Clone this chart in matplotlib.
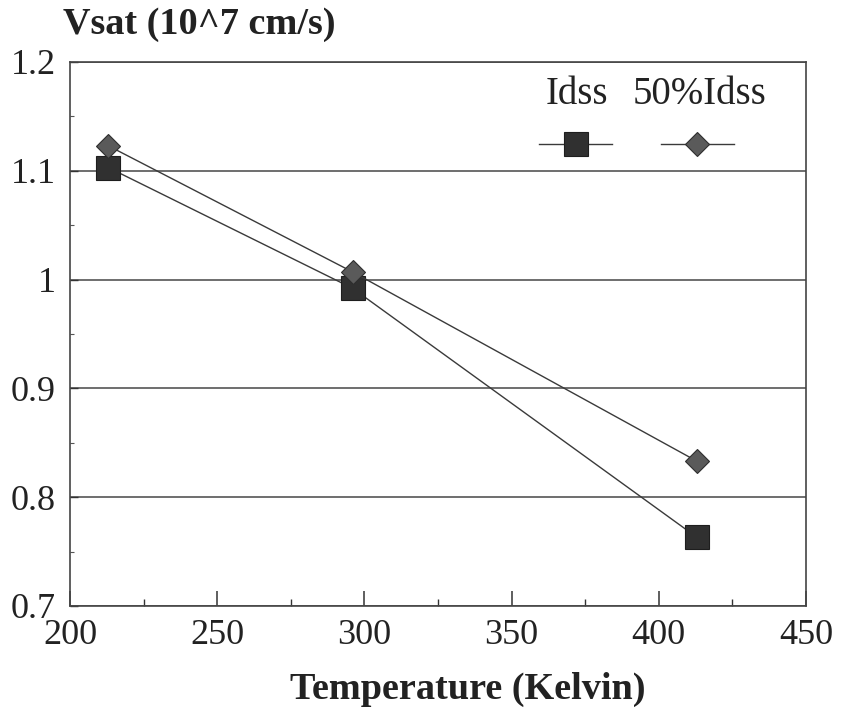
import matplotlib
matplotlib.use('Agg')
import matplotlib.pyplot as plt
from matplotlib.ticker import FixedLocator, MultipleLocator

# ---- data ----
temperature_k = [213, 296, 413]
vsat_idss = [1.103, 0.992, 0.763]
vsat_50idss = [1.123, 1.007, 0.833]
series_labels = ['Idss', '50%Idss']
x_ticks = [200, 250, 300, 350, 400, 450]
y_ticks = [0.7, 0.8, 0.9, 1.0, 1.1, 1.2]
y_tick_labels = ['0.7', '0.8', '0.9', '1', '1.1', '1.2']
y_title = 'Vsat (10^7 cm/s)'
x_title = 'Temperature (Kelvin)'

FONT = ['Liberation Serif', 'DejaVu Serif']
plt.rcParams['font.family'] = FONT

W, H = 842, 713
fig = plt.figure(figsize=(W / 100, H / 100), dpi=100)
L, R, T, B = 70, 806, 62, 606
ax = fig.add_axes([L / W, 1 - B / H, (R - L) / W, (B - T) / H])

line_c = '#3a3a3a'
ln1, = ax.plot(temperature_k, vsat_idss, color=line_c, lw=1.0, marker='s',
               ms=17.5, mfc='#303030', mec='#1e1e1e', mew=0.8, zorder=4)
ln2, = ax.plot(temperature_k, vsat_50idss, color=line_c, lw=1.0, marker='D',
               ms=12.5, mfc='#5a5a5a', mec='#2e2e2e', mew=0.8, zorder=5)

ax.set_xlim(x_ticks[0], x_ticks[-1])
ax.set_ylim(y_ticks[0], y_ticks[-1])
ax.xaxis.set_major_locator(FixedLocator(x_ticks))
ax.xaxis.set_minor_locator(MultipleLocator(25))
ax.yaxis.set_major_locator(FixedLocator(y_ticks))
ax.yaxis.set_minor_locator(MultipleLocator(0.05))
ax.set_xticklabels([str(v) for v in x_ticks])
ax.set_yticklabels(y_tick_labels)

ax.tick_params(axis='x', which='major', direction='in', length=11, width=1.1,
               color='#333333', labelsize=26, pad=9)
ax.tick_params(axis='x', which='minor', direction='in', length=5, width=1.0,
               color='#333333')
ax.tick_params(axis='y', which='major', direction='in', length=6, width=1.0,
               color='#333333', labelsize=26, pad=10)
ax.tick_params(axis='y', which='minor', direction='in', length=3, width=0.8,
               color='#555555')
for lab in ax.get_xticklabels() + ax.get_yticklabels():
    lab.set_color('#222222')

ax.grid(axis='y', which='major', color='#555555', lw=1.2, zorder=1)
ax.set_axisbelow(True)
for s in ax.spines.values():
    s.set_color('#444444')
    s.set_linewidth(1.2)

# axis titles
fig.text(63 / W, 1 - 34 / H, y_title, fontsize=27.5, fontweight='bold',
         color='#222222', ha='left', va='baseline')
fig.text(468 / W, 1 - 689 / H, x_title, fontsize=27.5, fontweight='bold',
         color='#222222', ha='center', va='center')

# legend: handles in a row, labels above them
leg = ax.legend([ln1, ln2], ['', ''], ncol=2, frameon=False, fontsize=27,
                loc='center', bbox_to_anchor=((636.5 - L) / (R - L), (B - 148) / (B - T)),
                handlelength=1.95, handletextpad=0.0, columnspacing=1.3,
                borderpad=0, borderaxespad=0)
for lab, xpix in zip(series_labels, [577, 699]):
    ax.text((xpix - L) / (R - L), (B - 95) / (B - T), lab, transform=ax.transAxes,
            fontsize=28, color='#222222', ha='center', va='center')

fig.savefig('out.png', dpi=100)
